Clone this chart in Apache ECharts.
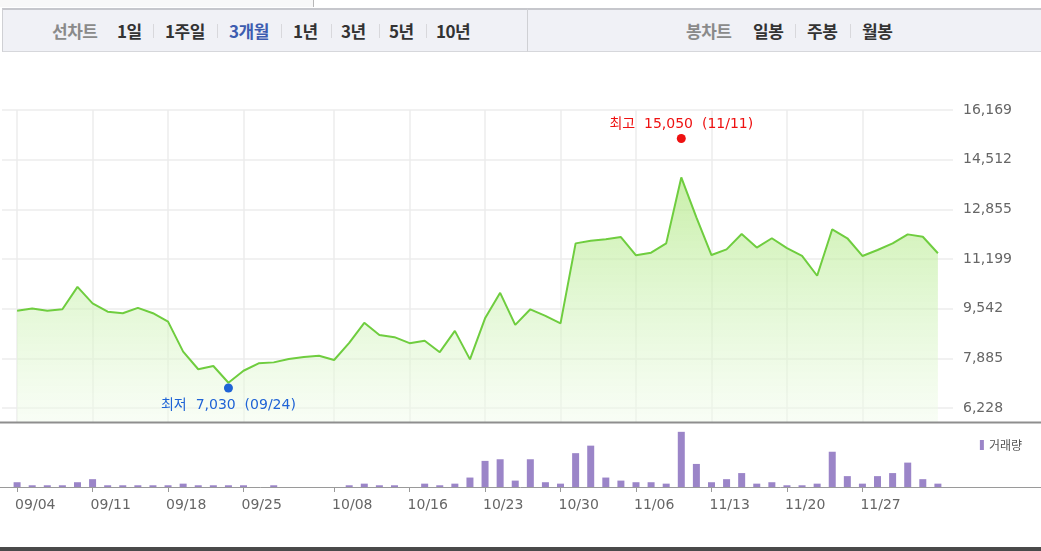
<!DOCTYPE html>
<html><head><meta charset="utf-8">
<script src="https://cdn.jsdelivr.net/npm/echarts@6/dist/echarts.min.js"></script>
<style>
html,body{margin:0;padding:0;background:#fff;width:1041px;height:551px;overflow:hidden;}
#chart{position:absolute;left:0;top:0;width:1041px;height:551px;}
.tb{position:absolute;top:8px;height:44px;background:#f0f1f6;border-top:2px solid #c6c7cc;border-bottom:1px solid #d6d7db;box-sizing:border-box;}
.w{position:absolute;top:19px;font:bold 17px "Noto Sans CJK KR",sans-serif;color:#333;line-height:24px;white-space:nowrap;letter-spacing:-0.5px;}
.g{color:#8a8a8a;}
.b{color:#3d5db0;}
.s{position:absolute;top:24px;width:1px;height:14px;background:#d8d8dc;}
#above{position:absolute;left:0;top:0;width:313px;height:7px;background:#f8f8f8;border-right:1px solid #b8b8b8;}
</style></head>
<body>
<div id="above"></div>
<div class="tb" style="left:2px;width:525px;border-left:1px solid #cfd0d4;"></div>
<div class="tb" style="left:527px;width:514px;border-left:1px solid #cfd0d4;"></div>
<span class="w g" style="left:52px">선차트</span>
<span class="w" style="left:117px">1일</span><span class="s" style="left:153px"></span>
<span class="w" style="left:165px">1주일</span><span class="s" style="left:217px"></span>
<span class="w b" style="left:229px">3개월</span><span class="s" style="left:281px"></span>
<span class="w" style="left:293px">1년</span><span class="s" style="left:331px"></span>
<span class="w" style="left:341px">3년</span><span class="s" style="left:379px"></span>
<span class="w" style="left:389px">5년</span><span class="s" style="left:426px"></span>
<span class="w" style="left:436px">10년</span>
<span class="w g" style="left:686px">봉차트</span>
<span class="w" style="left:753px">일봉</span><span class="s" style="left:795px"></span>
<span class="w" style="left:807px">주봉</span><span class="s" style="left:850px"></span>
<span class="w" style="left:862px">월봉</span>
<div id="chart"></div>
<script>
const dates = ['09/04','09/05','09/06','09/07','09/08','09/11','09/12','09/13','09/14','09/15',
  '09/18','09/19','09/20','09/21','09/24','09/25','09/26','09/27','09/28','10/02',
  '10/04','10/08','10/10','10/11','10/12','10/13','10/16','10/17','10/18','10/19',
  '10/20','10/23','10/24','10/25','10/26','10/27','10/30','10/31','11/01','11/02',
  '11/03','11/06','11/08','11/09','11/11','11/12','11/13','11/14','11/15','11/16',
  '11/17','11/20','11/21','11/22','11/23','11/24','11/27','11/28','11/29','11/30',
  '12/01','12/04'];
const closes = [9470,9550,9470,9520,10270,9720,9440,9390,9570,9390,
  9110,8110,7520,7630,7070,7470,7720,7750,7860,7930,
  7970,7830,8400,9070,8660,8590,8390,8470,8090,8800,
  7850,9220,10070,9000,9520,9300,9050,11720,11810,11860,
  11930,11320,11410,11720,13920,12590,11330,11520,12030,11580,
  11890,11560,11300,10640,12190,11890,11300,11500,11720,12020,
  11940,11390];
const volumes = [470,170,170,170,470,770,170,170,170,170,
  170,330,170,170,170,170,0,170,0,0,
  0,0,170,330,170,170,0,330,170,330,
  930,2570,2730,630,2730,470,330,3330,4070,930,
  630,470,470,330,5430,2270,470,770,1370,330,
  470,170,170,330,3470,1070,330,1070,1370,2400,
  770,330];
const tickDates = ['09/04','09/11','09/18','09/25','10/08','10/16','10/23','10/30','11/06','11/13','11/20','11/27'];
const priceTicks = [6228,7885,9542,11199,12855,14512,16169];
const highPoint = {date:'11/11', value:15050, name:'최고'};
const lowPoint = {date:'09/24', value:7030, name:'최저'};
const priceMin = 5761, priceMax = 16169;
const volumeMax = 6200;

const tickIdx = tickDates.map(d => dates.indexOf(d));
const fmt = v => Math.round(v).toLocaleString('en-US');
const chart = echarts.init(document.getElementById('chart'));
const lbl = p => `${p.name}  ${fmt(p.value)}  (${p.date})`;
chart.setOption({
  animation:false,
  backgroundColor:'transparent',
  textStyle:{fontFamily:'DejaVu Sans, "Noto Sans CJK KR", sans-serif'},
  grid:[
    {left:2,right:88,top:110,bottom:129,outerBoundsMode:'none',containLabel:false},
    {left:2,right:88,top:424,bottom:64,outerBoundsMode:'none',containLabel:false}
  ],
  legend:{data:['거래량'],right:14,top:434,icon:'rect',itemWidth:4,itemHeight:10,itemGap:4,
    textStyle:{color:'#555',fontSize:12,fontFamily:'"Noto Sans CJK KR", sans-serif'}},
  xAxis:[
    {type:'value',gridIndex:0,min:-1,max:62,axisLine:{show:false},
     axisTick:{show:false,customValues:tickIdx},axisLabel:{show:false,customValues:tickIdx},
     splitLine:{show:true,lineStyle:{color:'#ececec',width:1.5}}},
    {type:'value',gridIndex:1,min:-1,max:62,axisLine:{show:false},
     axisTick:{show:true,customValues:tickIdx,length:5,lineStyle:{color:'#999'}},
     axisLabel:{customValues:tickIdx,formatter:v=>dates[v],align:'left',color:'#666',fontSize:14,margin:11,padding:[0,0,0,-2]},
     splitLine:{show:false}}
  ],
  yAxis:[
    {type:'value',gridIndex:0,position:'right',min:priceMin,max:priceMax,axisLine:{show:false},
     axisTick:{show:false,customValues:priceTicks},
     axisLabel:{customValues:priceTicks,formatter:fmt,color:'#666',fontSize:14,margin:10},
     splitLine:{show:true,lineStyle:{color:'#ececec',width:1.5}}},
    {type:'value',gridIndex:1,min:0,max:volumeMax,show:false,splitLine:{show:false}}
  ],
  graphic:[
    {type:'line',shape:{x1:0,y1:422.5,x2:1041,y2:422.5},style:{stroke:'#8e8e8e',lineWidth:2},z:100},
    {type:'line',shape:{x1:0,y1:487.5,x2:1041,y2:487.5},style:{stroke:'#9a9a9a',lineWidth:1},z:100},
    {type:'rect',shape:{x:0,y:547,width:1041,height:4},style:{fill:'#4a4a4a'},z:100}
  ],
  series:[
    {type:'line',name:'종가',xAxisIndex:0,yAxisIndex:0,data:closes.map((v,i)=>[i,v]),z:2,
     showSymbol:false,lineStyle:{color:'#6fcd3f',width:2},emphasis:{disabled:true},
     areaStyle:{origin:'start',color:new echarts.graphic.LinearGradient(0,0,0,1,[
       {offset:0,color:'rgba(170,230,120,0.9)'},{offset:0.5,color:'rgba(205,242,180,0.8)'},{offset:1,color:'rgba(242,252,236,0.7)'}])}},
    {type:'scatter',name:'hi',xAxisIndex:0,yAxisIndex:0,symbolSize:9,z:20,emphasis:{disabled:true},
     data:[{value:[dates.indexOf(highPoint.date),highPoint.value],symbolOffset:[0,-5],itemStyle:{color:'#ee1111',opacity:1},
       label:{show:true,position:'top',distance:3,color:'#ee1111',fontSize:14,formatter:()=>lbl(highPoint)}},
      {value:[dates.indexOf(lowPoint.date),lowPoint.value],symbolOffset:[0,4],itemStyle:{color:'#1f63d6',opacity:1},
       label:{show:true,position:'bottom',distance:6,color:'#1f63d6',fontSize:14,formatter:()=>lbl(lowPoint)}}]},
    {type:'bar',name:'거래량',xAxisIndex:1,yAxisIndex:1,data:volumes.map((v,i)=>[i,v]),
     barWidth:7,itemStyle:{color:'#9b85c8'}}
  ]
});
</script>
</body></html>
